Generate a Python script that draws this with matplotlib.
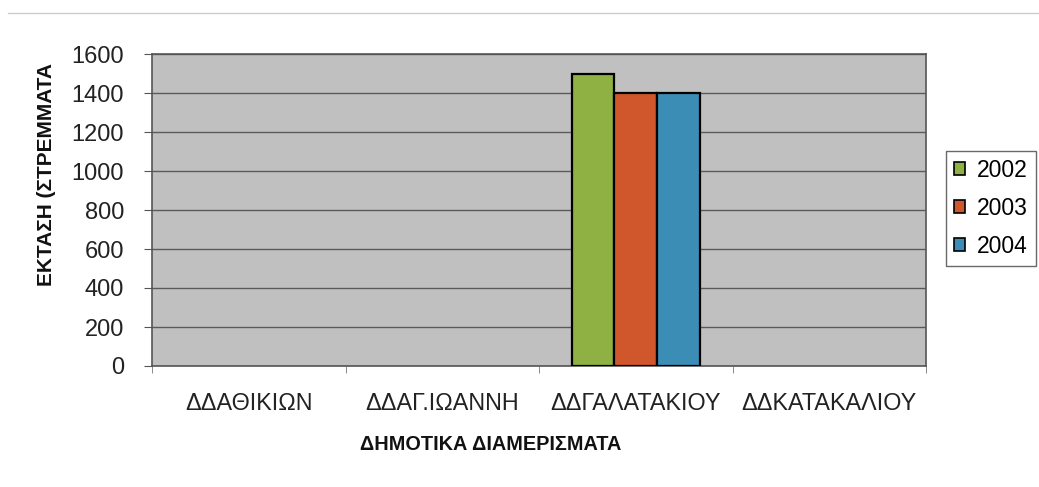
import matplotlib
matplotlib.use("Agg")
import matplotlib.pyplot as plt
import numpy as np
from matplotlib.patches import Patch

plt.rcParams['font.family'] = ['Liberation Sans', 'DejaVu Sans']

categories = ["ΔΔΑΘΙΚΙΩΝ", "ΔΔΑΓ.ΙΩΑΝΝΗ", "ΔΔΓΑΛΑΤΑΚΙΟΥ", "ΔΔΚΑΤΑΚΑΛΙΟΥ"]
years = ["2002", "2003", "2004"]
values_2002 = [0, 0, 1500, 0]
values_2003 = [0, 0, 1400, 0]
values_2004 = [0, 0, 1400, 0]
series = [values_2002, values_2003, values_2004]
colors = ["#8fb043", "#d0572b", "#3b8db5"]
yticks = [0, 200, 400, 600, 800, 1000, 1200, 1400, 1600]

W, H = 1039, 487
fig = plt.figure(figsize=(W / 100, H / 100), dpi=100)
ax = fig.add_axes([152 / W, 1 - 366 / H, (926 - 152) / W, (366 - 54) / H])
ax.set_facecolor("#c0c0c0")

x = np.arange(len(categories))
bw = 0.22
for i, (vals, c) in enumerate(zip(series, colors)):
    bars = ax.bar(x + (i - 1) * bw, vals, width=bw, color=c, edgecolor="black",
                  linewidth=1.6, zorder=3)
    for b, v in zip(bars, vals):
        if v == 0:
            b.set_visible(False)

ax.set_xlim(-0.5, len(categories) - 0.5)
ax.set_ylim(0, 1600)
ax.set_yticks(yticks)
ax.set_yticklabels([str(v) for v in yticks], fontsize=17, color="#222222")
ax.yaxis.grid(True, color="#5a5a5a", linewidth=1.0, zorder=1)
ax.tick_params(axis="y", length=6, color="#555555", pad=14)

ax.set_xticks(x)
ax.set_xticklabels(categories, fontsize=16.8, color="#222222")
ax.tick_params(axis="x", length=0, pad=19)
ax.set_xticks(np.arange(-0.5, len(categories) + 0.5, 1), minor=True)
ax.tick_params(axis="x", which="minor", length=5, color="#777777")

for s in ax.spines.values():
    s.set_color("#555555")
    s.set_linewidth(1.2)

fig.text(491 / W, 1 - 445 / H, "ΔΗΜΟΤΙΚΑ ΔΙΑΜΕΡΙΣΜΑΤΑ",
         ha="center", va="center", fontsize=14.3, fontweight="bold", color="#111111")
fig.text(47 / W, 1 - 175 / H, "ΕΚΤΑΣΗ (ΣΤΡΕΜΜΑΤΑ", rotation=90,
         ha="center", va="center", fontsize=15, fontweight="bold", color="#111111")

# faint top border line
fig.add_artist(plt.Line2D([8 / W, 1.0], [1 - 13 / H, 1 - 13 / H],
                          transform=fig.transFigure, color="#cccccc", linewidth=1))

handles = [Patch(facecolor=c, edgecolor="black", linewidth=1.2, label=y)
           for c, y in zip(colors, years)]
leg = fig.legend(handles=handles, loc="upper left",
                 bbox_to_anchor=(946 / W, 1 - 151 / H), fontsize=16.5,
                 frameon=True, fancybox=False, handlelength=0.5, handleheight=0.5,
                 handletextpad=0.5, labelspacing=0.65, borderpad=0.35,
                 borderaxespad=0)
leg.get_frame().set_edgecolor("#444444")
leg.get_frame().set_linewidth(1.0)

fig.savefig("out.png", dpi=100, facecolor="white")
